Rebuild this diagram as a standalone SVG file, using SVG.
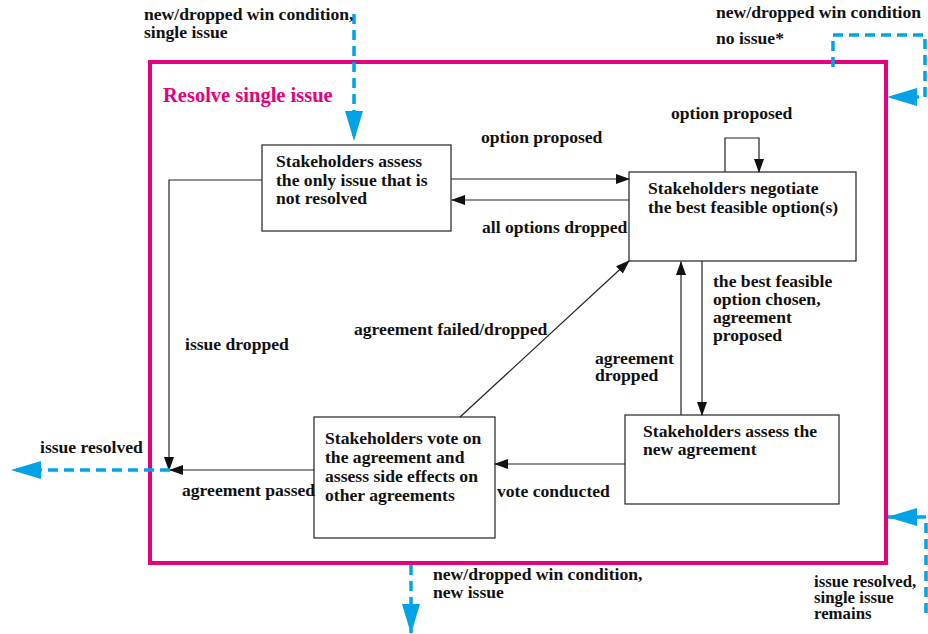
<svg xmlns="http://www.w3.org/2000/svg" width="928" height="634" viewBox="0 0 928 634">
  <style>
    text { font-family: "Liberation Serif", "Times New Roman", serif; font-weight: bold; fill: #111; }
    .lbl { font-size: 17.6px; }
    .tight { font-size: 16.8px; }
    .node rect { fill: #fff; stroke: #222; stroke-width: 1.2; }
    .edge { fill: none; stroke: #222; stroke-width: 1.2; }
    .ext { fill: none; stroke: #00a3e8; stroke-width: 3.5; stroke-dasharray: 10 6; }
    .title { font-size: 20.5px; fill: #e6007e; }
  </style>
  <defs>
    <marker id="ah" markerUnits="userSpaceOnUse" markerWidth="14" markerHeight="10" refX="13" refY="5" orient="auto">
      <path d="M0,0 L14,5 L0,10 Z" fill="#111"/>
    </marker>
    <marker id="bh" markerUnits="userSpaceOnUse" markerWidth="30" markerHeight="18" refX="29" refY="9" orient="auto">
      <path d="M0,0 L30,9 L0,18 Z" fill="#00a3e8"/>
    </marker>
  </defs>

  <!-- frame of the composite state -->
  <g id="frame">
    <rect x="150" y="62" width="736" height="501" fill="none" stroke="#e6007e" stroke-width="4"/>
    <text class="title" x="163" y="102">Resolve single issue</text>
  </g>

  <!-- states -->
  <g id="assess-issue" class="node">
    <rect x="262" y="145" width="189" height="86"/>
    <text class="lbl" x="276" y="167">Stakeholders assess</text>
    <text class="lbl" x="276" y="186">the only issue that is</text>
    <text class="lbl" x="276" y="204">not resolved</text>
  </g>
  <g id="negotiate" class="node">
    <rect x="629" y="172" width="227" height="89"/>
    <text class="lbl" x="648" y="194">Stakeholders negotiate</text>
    <text class="lbl" x="648" y="213">the best feasible option(s)</text>
  </g>
  <g id="assess-agreement" class="node">
    <rect x="625" y="415" width="214" height="89"/>
    <text class="lbl" x="643" y="437">Stakeholders assess the</text>
    <text class="lbl" x="643" y="455">new agreement</text>
  </g>
  <g id="vote" class="node">
    <rect x="314" y="417" width="181" height="121"/>
    <text class="lbl" x="325" y="444">Stakeholders vote on</text>
    <text class="lbl" x="325" y="463">the agreement and</text>
    <text class="lbl" x="325" y="482">assess side effects on</text>
    <text class="lbl" x="325" y="501">other agreements</text>
  </g>

  <!-- transitions -->
  <g id="connectors">
    <line class="edge" x1="451" y1="179" x2="629" y2="179" marker-end="url(#ah)"/>
    <line class="edge" x1="629" y1="200" x2="452" y2="200" marker-end="url(#ah)"/>
    <polyline class="edge" points="725,172 725,138 759,138 759,172" marker-end="url(#ah)"/>
    <line class="edge" x1="702" y1="261" x2="702" y2="415" marker-end="url(#ah)"/>
    <line class="edge" x1="681" y1="415" x2="681" y2="262" marker-end="url(#ah)"/>
    <line class="edge" x1="625" y1="464" x2="495" y2="464" marker-end="url(#ah)"/>
    <line class="edge" x1="460" y1="417" x2="629" y2="261" marker-end="url(#ah)"/>
    <polyline class="edge" points="262,180 169,180 169,470" marker-end="url(#ah)"/>
    <line class="edge" x1="314" y1="470" x2="170" y2="470" marker-end="url(#ah)"/>

    <!-- entries and exits of the composite state -->
    <line class="ext" x1="354" y1="14" x2="354" y2="140" marker-end="url(#bh)"/>
    <line class="ext" x1="170" y1="470" x2="12" y2="470" marker-end="url(#bh)"/>
    <line class="ext" x1="411" y1="565" x2="411" y2="633" marker-end="url(#bh)"/>
    <polyline class="ext" points="833,67 833,35 925,35 925,97 888,97" marker-end="url(#bh)"/>
    <polyline class="ext" points="926,613 926,517 888,517" marker-end="url(#bh)"/>
  </g>

  <!-- transition labels -->
  <g id="labels">
    <text class="lbl" x="144" y="20">new/dropped win condition,</text>
    <text class="lbl" x="144" y="38">single issue</text>
    <text class="lbl" x="716" y="18">new/dropped win condition</text>
    <text class="lbl" x="716" y="44">no issue*</text>
    <text class="lbl" x="671" y="119">option proposed</text>
    <text class="lbl" x="481" y="143">option proposed</text>
    <text class="lbl" x="482" y="233">all options dropped</text>
    <text class="lbl" x="713" y="287">the best feasible</text>
    <text class="lbl" x="713" y="305">option chosen,</text>
    <text class="lbl" x="713" y="323">agreement</text>
    <text class="lbl" x="713" y="341">proposed</text>
    <text class="lbl" x="595" y="364">agreement</text>
    <text class="lbl" x="595" y="381">dropped</text>
    <text class="lbl" x="354" y="335">agreement failed/dropped</text>
    <text class="lbl" x="185" y="350">issue dropped</text>
    <text class="lbl" x="40" y="453">issue resolved</text>
    <text class="lbl" x="182" y="496">agreement passed</text>
    <text class="lbl" x="497" y="497">vote conducted</text>
    <text class="lbl" x="433" y="580">new/dropped win condition,</text>
    <text class="lbl" x="433" y="598">new issue</text>
    <text class="tight" x="814" y="587">issue resolved,</text>
    <text class="tight" x="814" y="603">single issue</text>
    <text class="tight" x="814" y="619">remains</text>
  </g>
</svg>
